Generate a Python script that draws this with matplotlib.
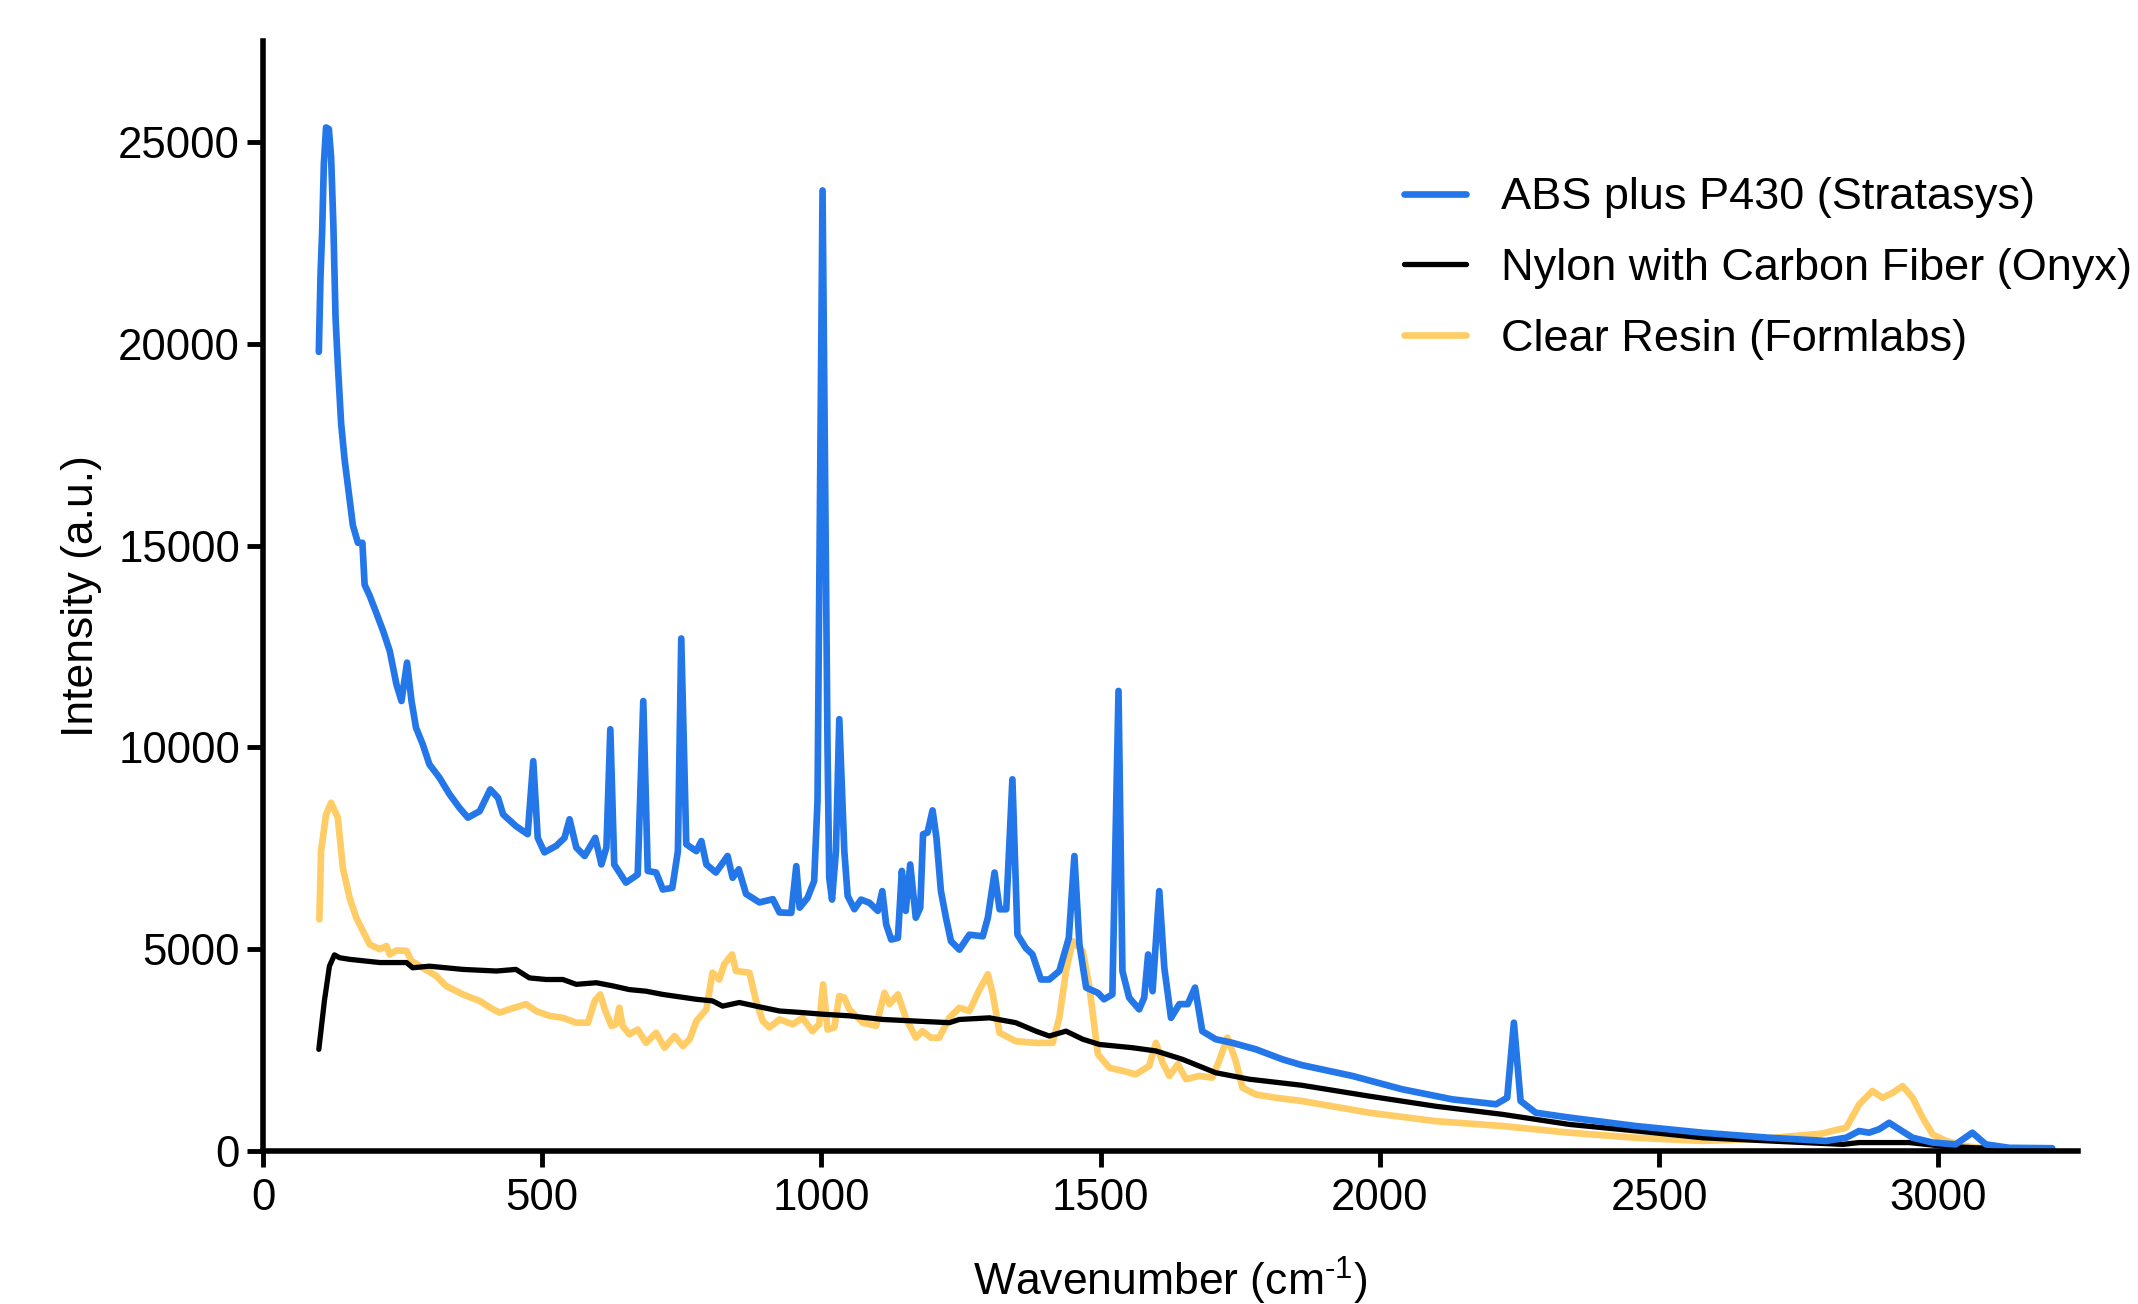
import matplotlib
matplotlib.use("Agg")
import matplotlib.pyplot as plt

plt.rcParams['font.family'] = ['Liberation Sans', 'DejaVu Sans']
plt.rcParams['mathtext.fontset'] = 'custom'
plt.rcParams['mathtext.rm'] = 'Liberation Sans'
plt.rcParams['mathtext.default'] = 'rm'

# ABS plus P430 (Stratasys)
abs_x = [100, 103, 106, 109, 113, 118, 122, 126, 130, 134, 140, 146, 154, 161, 170, 178,
         182, 191, 203, 215, 227, 239, 248, 258, 266, 274, 286, 298, 316, 334, 352, 367,
         388, 407, 421, 430, 453, 474, 484, 492, 504, 525, 540, 549, 561, 576, 595, 606,
         615, 622, 629, 650, 671, 681, 689, 704, 716, 733, 743, 749, 758, 776, 785, 794,
         811, 832, 841, 852, 865, 889, 913, 925, 946, 955, 961, 975, 987, 993, 1002, 1011,
         1014, 1019, 1026, 1032, 1041, 1047, 1059, 1071, 1086, 1101, 1109, 1116, 1125, 1137,
         1144, 1151, 1159, 1169, 1177, 1182, 1190, 1199, 1206, 1214, 1223, 1232, 1247, 1265,
         1289, 1298, 1310, 1319, 1331, 1342, 1351, 1366, 1378, 1393, 1408, 1426, 1443, 1453,
         1462, 1474, 1495, 1506, 1521, 1532, 1539, 1551, 1569, 1578, 1585, 1593, 1605, 1614,
         1626, 1641, 1656, 1669, 1682, 1706, 1736, 1778, 1826, 1860, 1951, 2040, 2130, 2208,
         2228, 2240, 2252, 2279, 2339, 2458, 2577, 2697, 2799, 2835, 2858, 2876, 2894, 2912,
         2930, 2954, 2990, 3031, 3061, 3085, 3127, 3204]
abs_y = [19800, 21670, 22800, 24450, 25360, 25320, 24620, 22970, 20630, 19500, 18020, 17150,
         16280, 15500, 15070, 15070, 14030, 13760, 13330, 12890, 12390, 11560, 11150, 12100,
         11150, 10490, 10080, 9580, 9250, 8840, 8500, 8260, 8420, 8960, 8750, 8340, 8050,
         7850, 9660, 7760, 7400, 7560, 7760, 8220, 7520, 7310, 7760, 7100, 7520, 10450, 7100,
         6650, 6850, 11150, 6940, 6900, 6480, 6520, 7430, 12700, 7600, 7430, 7680, 7100, 6900,
         7310, 6770, 6980, 6370, 6160, 6240, 5910, 5900, 7060, 6030, 6270, 6690, 8670, 23800,
         9910, 6770, 6230, 7430, 10700, 7430, 6320, 5990, 6230, 6150, 5950, 6440, 5610, 5240,
         5280, 6940, 5950, 7100, 5780, 6030, 7850, 7890, 8440, 7760, 6440, 5780, 5200, 4990,
         5360, 5320, 5780, 6900, 5990, 5990, 9210, 5360, 5030, 4870, 4250, 4250, 4460, 5280,
         7310, 5120, 4050, 3920, 3760, 3880, 11400, 4460, 3800, 3510, 3800, 4870, 3960, 6440,
         4540, 3300, 3640, 3640, 4050, 2970, 2770, 2680, 2520, 2270, 2130, 1860, 1530, 1280,
         1160, 1320, 3180, 1240, 950, 830, 620, 455, 330, 250, 330, 496, 455, 540, 700, 540,
         330, 210, 165, 455, 165, 80, 70]

# Nylon with Carbon Fiber (Onyx)
onyx_x = [100, 110, 119, 128, 137, 155, 209, 257, 268, 298, 358, 418, 453, 477, 507, 537,
          561, 597, 627, 656, 686, 716, 776, 805, 823, 853, 883, 925, 966, 1002, 1050, 1110,
          1169, 1229, 1247, 1301, 1348, 1384, 1408, 1438, 1468, 1498, 1557, 1599, 1647, 1706,
          1766, 1860, 1981, 2100, 2219, 2339, 2458, 2577, 2697, 2829, 2858, 2948, 3008, 3067,
          3204]
onyx_y = [2520, 3720, 4580, 4860, 4790, 4750, 4670, 4670, 4540, 4580, 4500, 4460, 4500, 4290,
          4250, 4250, 4130, 4170, 4090, 4000, 3960, 3880, 3760, 3720, 3590, 3680, 3590, 3470,
          3430, 3390, 3350, 3260, 3220, 3180, 3260, 3300, 3180, 2970, 2850, 2970, 2770, 2640,
          2560, 2480, 2270, 1940, 1780, 1630, 1360, 1110, 910, 660, 500, 330, 250, 165, 210,
          210, 120, 80, 40]

# Clear Resin (Formlabs)
resin_x = [101, 104, 113, 122, 134, 143, 155, 167, 179, 191, 209, 221, 227, 239, 257, 266,
           286, 310, 328, 358, 388, 412, 424, 441, 471, 489, 513, 537, 561, 582, 594, 604,
           612, 624, 632, 638, 644, 656, 671, 686, 704, 719, 737, 752, 764, 776, 794, 805,
           817, 826, 840, 847, 871, 883, 895, 907, 925, 949, 966, 984, 996, 1003, 1011, 1023,
           1032, 1041, 1050, 1074, 1098, 1113, 1122, 1137, 1151, 1169, 1181, 1196, 1211, 1229,
           1247, 1265, 1283, 1298, 1307, 1319, 1348, 1384, 1414, 1426, 1438, 1450, 1468, 1480,
           1495, 1516, 1539, 1563, 1587, 1599, 1611, 1623, 1638, 1653, 1676, 1700, 1712, 1727,
           1742, 1754, 1778, 1814, 1860, 1981, 2100, 2219, 2339, 2458, 2577, 2690, 2790, 2835,
           2858, 2882, 2900, 2918, 2936, 2954, 2972, 2990, 3014, 3049, 3097, 3204]
resin_y = [5740, 7430, 8340, 8630, 8260, 7020, 6280, 5780, 5450, 5120, 5000, 5080, 4870, 4970,
           4960, 4710, 4540, 4340, 4090, 3880, 3720, 3510, 3430, 3510, 3640, 3470, 3350, 3300,
           3180, 3180, 3720, 3880, 3510, 3100, 3140, 3550, 3100, 2890, 3010, 2680, 2930, 2560,
           2850, 2600, 2770, 3220, 3510, 4420, 4250, 4630, 4870, 4460, 4420, 3720, 3220, 3060,
           3260, 3140, 3300, 2970, 3140, 4130, 3010, 3060, 3840, 3800, 3510, 3180, 3100, 3920,
           3640, 3880, 3300, 2810, 2970, 2810, 2810, 3300, 3550, 3470, 4000, 4380, 3880, 2930,
           2720, 2680, 2680, 3300, 4460, 5200, 4950, 4050, 2400, 2060, 1990, 1900, 2110, 2680,
           2190, 1860, 2150, 1780, 1860, 1820, 2230, 2810, 2230, 1570, 1400, 1320, 1240, 950,
           740, 620, 455, 330, 250, 310, 430, 580, 1150, 1490, 1320, 1440, 1610, 1320, 825,
           410, 250, 120, 40, 40]

labels = ['ABS plus P430 (Stratasys)', 'Nylon with Carbon Fiber (Onyx)', 'Clear Resin (Formlabs)']
colors = ['#2377E8', 'black', '#FFCC66']

fig = plt.figure(figsize=(21.38, 13.04), dpi=100)
ax = fig.add_axes([0.1230, 0.1173, 0.8489, 0.8512])

l_resin, = ax.plot(resin_x, resin_y, color=colors[2], lw=4.8, solid_joinstyle='round',
                   solid_capstyle='round')
l_onyx, = ax.plot(onyx_x, onyx_y, color=colors[1], lw=3.8, solid_joinstyle='round',
                  solid_capstyle='round')
l_abs, = ax.plot(abs_x, abs_y, color=colors[0], lw=4.8, solid_joinstyle='round',
                 solid_capstyle='round')

ax.set_xlim(0, 3250)
ax.set_ylim(0, 27500)
ax.set_xticks([0, 500, 1000, 1500, 2000, 2500, 3000])
ax.set_yticks([0, 5000, 10000, 15000, 20000, 25000])

for s in ['top', 'right']:
    ax.spines[s].set_visible(False)
for s in ['left', 'bottom']:
    ax.spines[s].set_linewidth(4)

ax.tick_params(axis='both', direction='out', length=11.5, width=3.5, labelsize=31.5)
ax.tick_params(axis='x', pad=8)
ax.tick_params(axis='y', pad=5)

ax.set_xlabel(r'Wavenumber (cm$^{\text{-1}}$)', fontsize=32, labelpad=26)
ax.set_ylabel('Intensity (a.u.)', fontsize=32, labelpad=12)

ax.legend([l_abs, l_onyx, l_resin], labels, loc='upper left',
          bbox_to_anchor=(0.6567, 0.864), bbox_transform=fig.transFigure,
          frameon=False, fontsize=32.5, borderpad=0, borderaxespad=0,
          handlelength=1.37, handletextpad=0.77, labelspacing=0.66)

fig.savefig('out.png', dpi=100)
